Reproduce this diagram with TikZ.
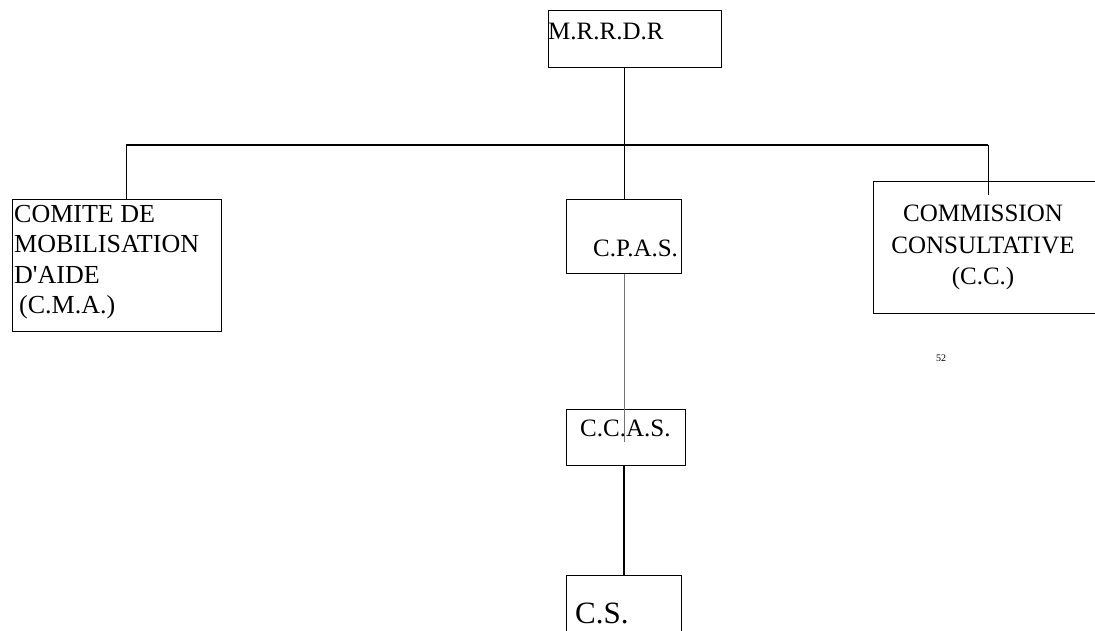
\documentclass[tikz,border=0pt]{standalone}
\usepackage{fontspec}
\setmainfont{Liberation Serif}
\usetikzlibrary{positioning}
\usetikzlibrary{calc}

\begin{document}
\begin{tikzpicture}[x=1pt,y=-1pt]
\tikzstyle{block} = [rectangle, draw=black, line width=0.9pt, inner sep=0pt, anchor=north west]
\tikzstyle{txt} = [inner sep=0pt, font=\fontsize{25}{30}\selectfont]
\tikzstyle{line} = [draw, line width=0.9pt]
\tikzstyle{bus} = [draw, line width=1.6pt]
\useasboundingbox (0,0) rectangle (1095,631);
% boxes
\node [block, minimum width=173pt, minimum height=57pt] (mrrdr) at (548,10) {};
\node [block, minimum width=209pt, minimum height=132pt] (cma) at (12,199) {};
\node [block, minimum width=115pt, minimum height=74pt] (cpas) at (566,199) {};
\node [block, minimum width=232pt, minimum height=132pt] (cc) at (873,181) {};
\node [block, minimum width=119pt, minimum height=56pt] (ccas) at (566,409) {};
\node [block, minimum width=115pt, minimum height=70pt] (cs) at (566,575) {};
% texts
\node [txt, anchor=base west] (mrrdrtext) at ($(mrrdr.north west)+(0,30)$) {M.R.R.D.R};
\node [txt, font=\fontsize{26}{30.5}\selectfont, align=left, anchor=north west] (cmatext) at (14,205)
  {COMITE DE\\MOBILISATION\\D\textquotesingle AIDE\\\hspace*{5pt}(C.M.A.)};
\node [txt, anchor=base west] (cpastext) at ($(cpas.north west)+(27,57)$) {C.P.A.S.};
\node [txt, font=\fontsize{25}{31.5}\selectfont, align=center, anchor=north] (cctext) at (983,205)
  {COMMISSION\\CONSULTATIVE\\(C.C.)};
\node [txt, anchor=base west] (ccastext) at ($(ccas.north west)+(14,27)$) {C.C.A.S.};
\node [txt, font=\fontsize{31}{36}\selectfont, anchor=base west] (cstext) at ($(cs.north west)+(9,48)$) {C.S.};
\node [txt, font=\fontsize{10}{12}\selectfont] (page) at (941,358) {52};
% connectors
\coordinate (busL) at (126,145);
\coordinate (busR) at (988,145);
\draw [line] (cpas.north |- mrrdr.south) -- (cpas.north);
\draw [bus] (busL) -- (busR);
\draw [line] (busL) -- (busL |- cma.north);
\draw [line] (busR) -- ($(busR |- cc.north)+(0,14)$);
\draw [line, draw=black!55, line width=0.6pt] (cpas.south) -- ($(cpas.south |- ccas.north)+(0,33)$);
\draw [line, line width=1.4pt] (cpas.south |- ccas.south) -- (cs.north);
\end{tikzpicture}
\end{document}
